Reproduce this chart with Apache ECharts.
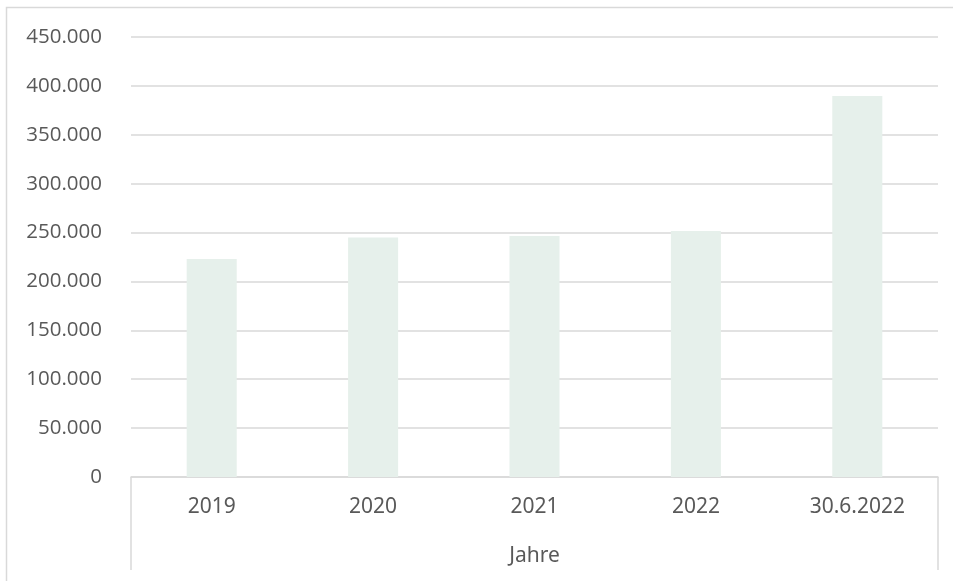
<!DOCTYPE html>
<html>
<head>
<meta charset="utf-8">
<script src="https://cdn.jsdelivr.net/npm/echarts@6/dist/echarts.min.js"></script>
<style>
html,body{margin:0;padding:0;background:#fff;}
#main{width:953px;height:581px;}
</style>
</head>
<body>
<div id="main"></div>
<script>
const categories = ['2019', '2020', '2021', '2022', '30.6.2022'];
const values = [223000, 245000, 246500, 251500, 389700];
const yTicks = [0, 50000, 100000, 150000, 200000, 250000, 300000, 350000, 400000, 450000];
const axisTitle = 'Jahre';

const GRID = {left: 131, right: 15, top: 37, bottom: 104};
const W = 953, H = 581;

function fmt(v) {
  return String(v).replace(/\B(?=(\d{3})+(?!\d))/g, '.');
}

const chart = echarts.init(document.getElementById('main'), null, {renderer: 'canvas'});
chart.setOption({
  animation: false,
  backgroundColor: '#ffffff',
  grid: {left: GRID.left, right: GRID.right, top: GRID.top, bottom: GRID.bottom, containLabel: false},
  xAxis: {
    type: 'category',
    data: categories,
    boundaryGap: true,
    axisLine: {show: true, lineStyle: {color: '#d9d9d9', width: 1.5}},
    axisTick: {show: false},
    axisLabel: {color: '#595959', fontSize: 21, fontFamily: 'Noto Sans, sans-serif', margin: 20},
    name: axisTitle,
    nameLocation: 'middle',
    nameGap: 69,
    nameTextStyle: {color: '#595959', fontSize: 21, fontFamily: 'Noto Sans, sans-serif'}
  },
  yAxis: {
    type: 'value',
    min: yTicks[0],
    max: yTicks[yTicks.length - 1],
    interval: yTicks[1] - yTicks[0],
    axisLine: {show: false},
    axisTick: {show: false},
    splitLine: {show: true, lineStyle: {color: '#d9d9d9', width: 1.5}},
    axisLabel: {color: '#595959', fontSize: 20.5, fontFamily: 'Open Sans, sans-serif', margin: 29, formatter: fmt}
  },
  series: [{
    type: 'bar',
    data: values,
    barWidth: '31%',
    itemStyle: {color: '#e6f0eb'}
  }],
  graphic: [
    {type: 'rect', silent: true, z: -1,
     shape: {x: 6.5, y: 7.5, width: W + 20, height: H + 20},
     style: {fill: 'none', stroke: '#d9d9d9', lineWidth: 1.5}},
    {type: 'line', silent: true,
     shape: {x1: GRID.left, y1: H - GRID.bottom, x2: GRID.left, y2: 570},
     style: {stroke: '#d9d9d9', lineWidth: 1.5}},
    {type: 'line', silent: true,
     shape: {x1: W - GRID.right, y1: H - GRID.bottom, x2: W - GRID.right, y2: 570},
     style: {stroke: '#d9d9d9', lineWidth: 1.5}}
  ]
});
</script>
</body>
</html>
